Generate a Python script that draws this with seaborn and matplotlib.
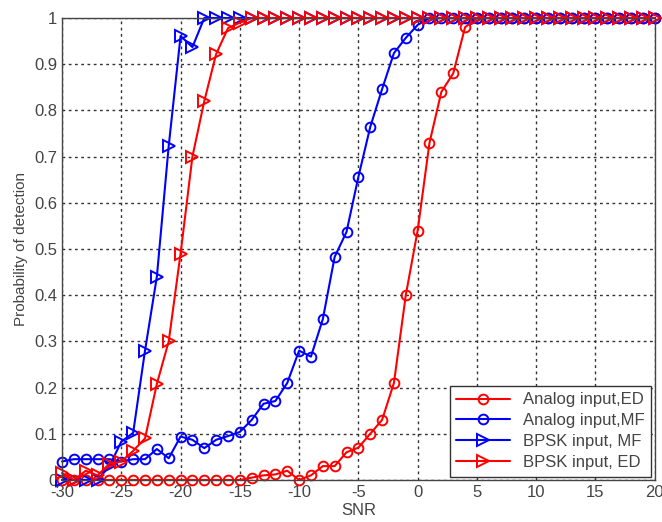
import numpy as np
import pandas as pd
import matplotlib
matplotlib.use("Agg")
import matplotlib.pyplot as plt
import seaborn as sns

snr = list(range(-30, 21))

analog_ed = [0, 0, 0, 0, 0, 0, 0, 0, 0, 0,
             0, 0, 0, 0, 0, 0, 0.005, 0.01, 0.012, 0.02,
             0.0, 0.01, 0.03, 0.03, 0.06, 0.07, 0.10, 0.13, 0.21, 0.40,
             0.54, 0.73, 0.84, 0.88, 0.98] + [1.0] * 16

analog_mf = [0.04, 0.045, 0.045, 0.045, 0.045, 0.04, 0.045, 0.045, 0.067, 0.047,
             0.094, 0.087, 0.069, 0.087, 0.095, 0.104, 0.13, 0.165, 0.171, 0.21,
             0.28, 0.267, 0.348, 0.483, 0.537, 0.656, 0.764, 0.846, 0.924, 0.957,
             0.985] + [1.0] * 20

bpsk_mf = [0.0, 0.0, 0.0, 0.0, 0.03, 0.083, 0.102, 0.28, 0.44, 0.723,
           0.961, 0.937] + [1.0] * 39

bpsk_ed = [0.015, 0.0, 0.02, 0.01, 0.035, 0.04, 0.063, 0.09, 0.208, 0.30,
           0.49, 0.70, 0.82, 0.922, 0.978, 0.99] + [1.0] * 35

labels = ["Analog input,ED", "Analog input,MF", "BPSK input, MF", "BPSK input, ED"]
series = [analog_ed, analog_mf, bpsk_mf, bpsk_ed]
colors = ["#ff0000", "#0000ff", "#0000ff", "#ff0000"]
markers = ["o", "o", ">", ">"]
msizes = [7, 7, 9, 9]

sns.set_style("white")
plt.rcParams['font.family'] = ['Liberation Sans', 'DejaVu Sans']
plt.rcParams['axes.unicode_minus'] = False

fig = plt.figure(figsize=(6.62, 5.22), dpi=100)
ax = fig.add_axes([0.0937, 0.0805, 0.8953, 0.885])

for lab, vals, c, m, ms in zip(labels, series, colors, markers, msizes):
    df = pd.DataFrame({"SNR": snr, "Pd": vals})
    sns.lineplot(data=df, x="SNR", y="Pd", ax=ax, color=c, marker=m,
                 markersize=ms, markerfacecolor="none", markeredgecolor=c,
                 markeredgewidth=1.4, linewidth=1.5, label=lab, clip_on=False)

ax.set_xlim(-30, 20)
ax.set_ylim(0, 1)
ax.set_xticks(range(-30, 21, 5))
yt = [round(v * 0.1, 1) for v in range(11)]
ax.set_yticks(yt)
ax.set_yticklabels(["0" if v == 0 else ("1" if v == 1 else f"{v:.1f}") for v in yt])
ax.grid(True, linestyle=(0, (2, 2.5)), color="#333333", linewidth=1.0)
ax.tick_params(direction="in", labelsize=12, colors="#444444", length=4)
for sp in ax.spines.values():
    sp.set_color("#444444")
    sp.set_linewidth(1.0)
ax.set_xlabel("SNR", fontsize=12, color="#444444", labelpad=2)
ax.set_ylabel("Probability of detection", fontsize=11, color="#444444", labelpad=4)

leg = ax.legend(loc="lower right", fontsize=12, frameon=True, fancybox=False,
                edgecolor="#333333", framealpha=1, handlelength=3.2,
                borderpad=0.4, labelspacing=0.35, borderaxespad=0.2)
leg.get_frame().set_linewidth(1.0)
for t in leg.get_texts():
    t.set_color("#444444")

fig.savefig("out.png", dpi=100)
